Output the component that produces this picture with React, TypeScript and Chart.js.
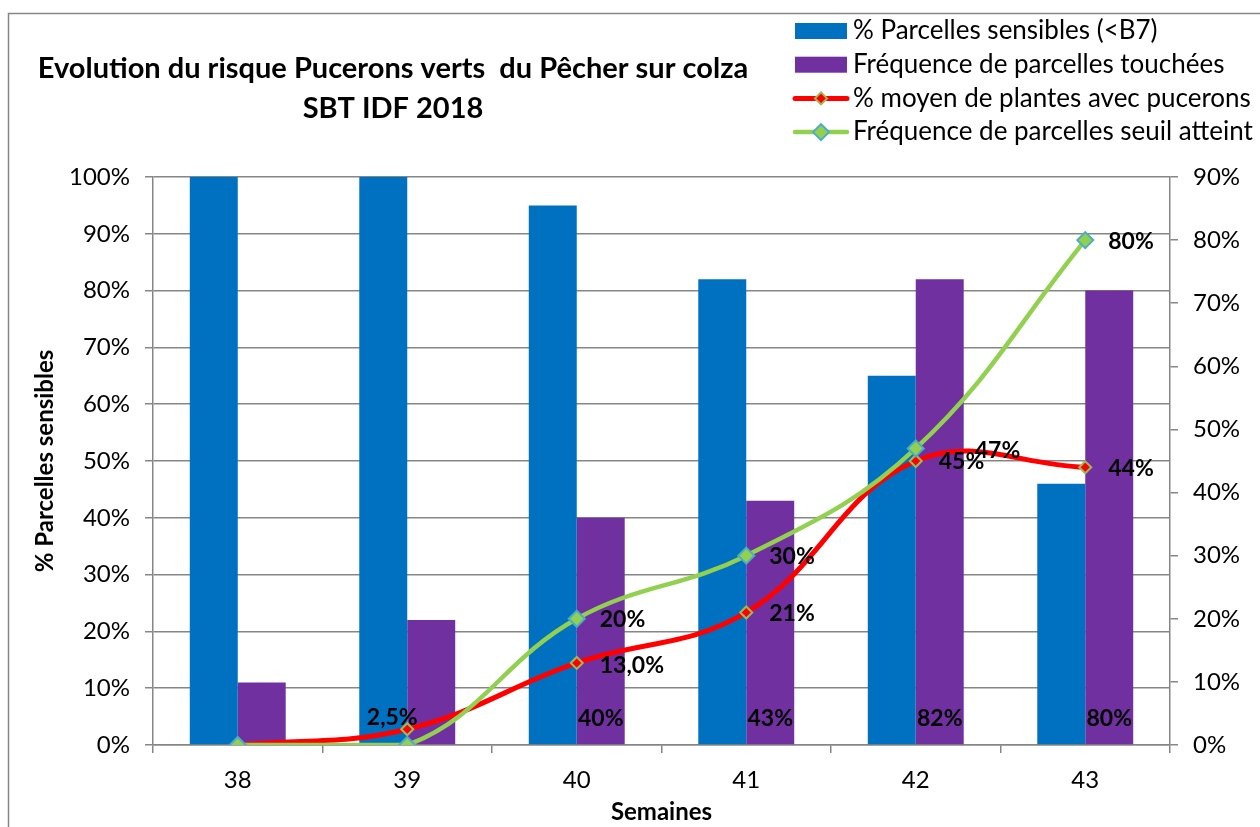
import { useEffect, useRef } from 'react';
import { Chart, registerables } from 'chart.js';

Chart.register(...registerables);

const FONT = 'Lato, "Liberation Sans", sans-serif';

const weeks = ['38', '39', '40', '41', '42', '43'];
const sensibles = [100, 100, 95, 82, 65, 46];
const touchees = [11, 22, 40, 43, 82, 80];
const plantes = [0, 2.5, 13, 21, 45, 44];
const seuil = [0, 0, 20, 30, 47, 80];

const plantesLabels = [null, '2,5%', '13,0%', '21%', '45%', '44%'];
const seuilLabels = [null, null, '20%', '30%', '47%', '80%'];
const toucheesLabels = [null, null, '40%', '43%', '82%', '80%'];

const seriesNames = [
  '% Parcelles sensibles (<B7)',
  'Fréquence de parcelles touchées',
  '% moyen de plantes avec pucerons',
  'Fréquence de parcelles seuil atteint',
];
const titleLines = ['Evolution du risque Pucerons verts  du Pêcher sur colza', 'SBT IDF 2018'];
const yTitle = '% Parcelles sensibles';
const xTitle = 'Semaines';

const BLUE = '#0070C0';
const PURPLE = '#7030A0';
const RED = '#FF0000';
const GREEN = '#92D050';
const GRID = '#868686';

function diamond(ctx: CanvasRenderingContext2D, x: number, y: number, r: number, fill: string, stroke: string, lw: number) {
  ctx.beginPath();
  ctx.moveTo(x - r, y);
  ctx.lineTo(x, y - r);
  ctx.lineTo(x + r, y);
  ctx.lineTo(x, y + r);
  ctx.closePath();
  ctx.fillStyle = fill;
  ctx.fill();
  ctx.lineWidth = lw;
  ctx.strokeStyle = stroke;
  ctx.stroke();
}

const decor = {
  id: 'decor',
  beforeDraw(chart: any) {
    const ctx = chart.ctx;
    ctx.save();
    ctx.fillStyle = '#fff';
    ctx.fillRect(0, 0, chart.width, chart.height);
    ctx.strokeStyle = GRID;
    ctx.lineWidth = 1.5;
    ctx.strokeRect(8.5, 13.5, chart.width + 40, chart.height + 40);
    ctx.restore();
  },
  afterDatasetsDraw(chart: any) {
    const ctx = chart.ctx;
    ctx.save();
    ctx.font = `bold 23px ${FONT}`;
    ctx.fillStyle = '#000';
    ctx.textBaseline = 'middle';
    const redMeta = chart.getDatasetMeta(2);
    const greenMeta = chart.getDatasetMeta(3);
    const purpleMeta = chart.getDatasetMeta(1);
    plantesLabels.forEach((t, i) => {
      if (!t) return;
      const p = redMeta.data[i];
      if (i === 1) {
        ctx.textAlign = 'center';
        ctx.fillText(t, p.x - 15, p.y - 12);
      } else {
        ctx.textAlign = 'left';
        ctx.fillText(t, p.x + 23, p.y + (i === 2 ? 3 : 1));
      }
    });
    seuilLabels.forEach((t, i) => {
      if (!t) return;
      const p = greenMeta.data[i];
      ctx.textAlign = 'left';
      if (i === 4) ctx.fillText(t, p.x + 59, p.y + 2);
      else ctx.fillText(t, p.x + 23, p.y + 1);
    });
    toucheesLabels.forEach((t, i) => {
      if (!t) return;
      const b = purpleMeta.data[i];
      ctx.textAlign = 'center';
      ctx.fillText(t, b.x, b.base - 26);
    });
    ctx.restore();
  },
  afterDraw(chart: any) {
    const ctx = chart.ctx;
    ctx.save();
    ctx.fillStyle = '#000';
    ctx.textBaseline = 'middle';
    ctx.textAlign = 'center';
    ctx.font = `bold 29px ${FONT}`;
    ctx.fillText(titleLines[0], 393, 69);
    ctx.fillText(titleLines[1], 393, 109);

    ctx.font = `26px ${FONT}`;
    ctx.textAlign = 'left';
    const ds = chart.data.datasets;
    ds.forEach((d: any, i: number) => {
      const y = 31 + i * 33.7;
      if (d.type === 'bar') {
        ctx.fillStyle = d.backgroundColor;
        ctx.fillRect(795, y - 8, 52, 16);
      } else {
        ctx.strokeStyle = d.borderColor;
        ctx.lineWidth = d.borderWidth;
        ctx.lineCap = 'round';
        ctx.beginPath();
        ctx.moveTo(795, y);
        ctx.lineTo(847, y);
        ctx.stroke();
        diamond(ctx, 821, y, d.pointRadius, d.pointBackgroundColor, d.pointBorderColor, d.pointBorderWidth);
      }
      ctx.fillStyle = '#000';
      ctx.fillText(seriesNames[i], 853, y);
    });
    ctx.restore();
  },
};

export default function App() {
  const ref = useRef<HTMLCanvasElement>(null);
  useEffect(() => {
    if (!ref.current) return;
    Chart.defaults.font.family = FONT;
    Chart.defaults.color = '#000';
    const chart = new Chart(ref.current, {
      data: {
        labels: weeks,
        datasets: [
          {
            type: 'bar',
            label: seriesNames[0],
            data: sensibles,
            backgroundColor: BLUE,
            yAxisID: 'y',
            order: 2,
            barPercentage: 1,
            categoryPercentage: 0.566,
          },
          {
            type: 'bar',
            label: seriesNames[1],
            data: touchees,
            backgroundColor: PURPLE,
            yAxisID: 'y',
            order: 2,
            barPercentage: 1,
            categoryPercentage: 0.566,
          },
          {
            type: 'line',
            label: seriesNames[2],
            data: plantes,
            borderColor: RED,
            borderWidth: 5,
            tension: 0.4,
            pointStyle: 'rectRot',
            pointRadius: 6,
            pointBackgroundColor: RED,
            pointBorderColor: '#9BBB59',
            pointBorderWidth: 2,
            yAxisID: 'y1',
            order: 1,
          },
          {
            type: 'line',
            label: seriesNames[3],
            data: seuil,
            borderColor: GREEN,
            borderWidth: 4.5,
            tension: 0.4,
            pointStyle: 'rectRot',
            pointRadius: 8,
            pointBackgroundColor: GREEN,
            pointBorderColor: '#4BACC6',
            pointBorderWidth: 2,
            yAxisID: 'y1',
            order: 0,
          },
        ],
      } as any,
      options: {
        animation: false,
        responsive: false,
        devicePixelRatio: 1,
        layout: { padding: { top: 177, left: 0, right: 0, bottom: 0 } },
        plugins: {
          legend: { display: false },
          title: { display: false },
          tooltip: { enabled: false },
        },
        scales: {
          x: {
            type: 'category',
            offset: true,
            grid: { offset: true, drawOnChartArea: false, color: GRID, tickLength: 8, lineWidth: 1.5 },
            border: { display: true, color: GRID, width: 1.5 },
            ticks: { font: { size: 24 }, padding: 13, color: '#000' },
            title: { display: true, text: xTitle, font: { size: 24, weight: 'bold' }, padding: { top: 0, bottom: 0 }, color: '#000' },
            afterFit: (s: any) => { s.height = 82; },
          },
          y: {
            position: 'left',
            min: 0,
            max: 100,
            ticks: { stepSize: 10, font: { size: 24 }, padding: 15, color: '#000', callback: (v: any) => `${v}%` },
            grid: { color: GRID, tickLength: 8, lineWidth: 1.5 },
            border: { display: true, color: GRID, width: 1.5 },
            title: { display: true, text: yTitle, font: { size: 24, weight: 'bold' }, padding: { top: 31, bottom: 0 }, color: '#000' },
            afterFit: (s: any) => { s.width = 153; },
          },
          y1: {
            position: 'right',
            min: 0,
            max: 90,
            ticks: { stepSize: 10, font: { size: 24 }, padding: 15, color: '#000', callback: (v: any) => `${v}%` },
            grid: { drawOnChartArea: false, color: GRID, tickLength: 8, lineWidth: 1.5 },
            border: { display: true, color: GRID, width: 1.5 },
            afterFit: (s: any) => { s.width = 90; },
          },
        },
      } as any,
      plugins: [decor],
    });
    return () => chart.destroy();
  }, []);
  return (
    <div style={{ position: 'fixed', left: 0, top: 0, width: 1260, height: 827, background: '#fff' }}>
      <canvas ref={ref} width={1260} height={827} style={{ width: 1260, height: 827, display: 'block' }} />
    </div>
  );
}
